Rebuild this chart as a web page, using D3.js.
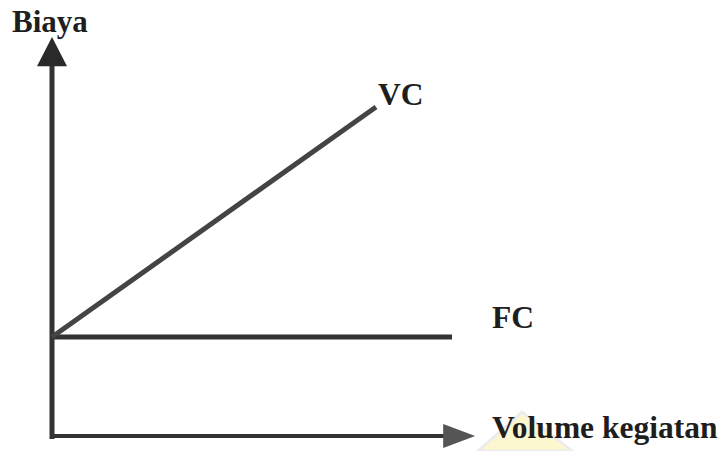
<!DOCTYPE html>
<html>
<head>
<meta charset="utf-8">
<script src="https://cdn.jsdelivr.net/npm/d3@7"></script>
<style>
  html, body { margin: 0; padding: 0; background: #fff; }
  svg { display: block; }
  text { font-family: "Liberation Serif", "Times New Roman", serif; font-weight: bold; fill: #1e1e1e; }
</style>
</head>
<body>
<svg id="chart" width="725" height="451"></svg>
<script>
// Data (abstract units)
const volume = [0, 10];          // Volume kegiatan range for FC
const fcValues = [2.5, 2.5];     // Fixed cost
const vcVolume = [0, 8.1];       // VC line extent
const vcValues = [2.5, 8.25];    // Variable cost line
const labels = { y: "Biaya", x: "Volume kegiatan", vc: "VC", fc: "FC" };

const svg = d3.select("#chart");
const x = d3.scaleLinear().domain([0, 10]).range([52, 452]);
const y = d3.scaleLinear().domain([0, 10]).range([437, 37]);
const ink = "#333";

// Faint yellow watermark shape
svg.append("polygon")
  .attr("points", "478,451 522,412 572,451")
  .attr("fill", "#fdf7cf").attr("stroke", "#ececec").attr("stroke-width", 3);

// Axes via d3 axis generators (no ticks)
const yAxis = d3.axisLeft(y).tickValues([]).tickSizeOuter(0);
const xAxis = d3.axisBottom(x).tickValues([]).tickSizeOuter(0);
const gy = svg.append("g").attr("transform", `translate(${x(0)},0)`).call(yAxis);
gy.select(".domain").attr("d", `M0,${y(0) + 2}V${y(9.3)}`).attr("stroke", ink).attr("stroke-width", 5);
const gx = svg.append("g").attr("transform", `translate(0,${y(0) - 1})`).call(xAxis);
gx.select(".domain").attr("d", `M${x(0) - 2},0H${x(9.8)}`).attr("stroke", ink).attr("stroke-width", 4);

// Arrowheads
svg.append("path")
  .attr("d", `M${x(0)},${y(10)} L${x(0) - 15},${y(9.27)} L${x(0) + 15},${y(9.27)} Z`)
  .attr("fill", "#2a2a2a");
svg.append("path")
  .attr("d", `M${x(9.78)},${y(0) - 13} L${x(10.58)},${y(0) - 1} L${x(9.78)},${y(0) + 11} Z`)
  .attr("fill", "#555");

const line = d3.line().x(d => x(d[0])).y(d => y(d[1]));

// FC line
svg.append("path")
  .datum(volume.map((v, i) => [v, fcValues[i]]))
  .attr("d", line).attr("fill", "none").attr("stroke", ink).attr("stroke-width", 5);

// VC line
svg.append("path")
  .datum(vcVolume.map((v, i) => [v, vcValues[i]]))
  .attr("d", line).attr("fill", "none").attr("stroke", "#444").attr("stroke-width", 5);

// Labels
svg.append("text").attr("x", 12).attr("y", 32).attr("font-size", 31).text(labels.y);
svg.append("text").attr("x", 378).attr("y", 105).attr("font-size", 31.5).text(labels.vc);
svg.append("text").attr("x", 492).attr("y", 328).attr("font-size", 31.5).text(labels.fc);
svg.append("text").attr("x", 492).attr("y", 438).attr("font-size", 31.5).attr("fill", "#2a2a2a").text(labels.x);
</script>
</body>
</html>
